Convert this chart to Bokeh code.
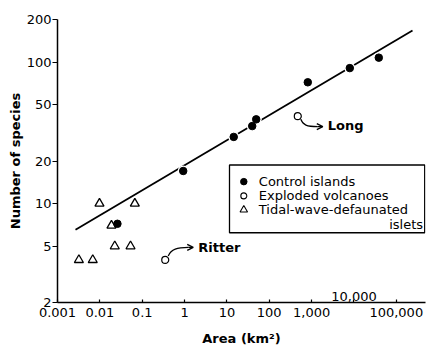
import math
from bokeh.plotting import figure
from bokeh.models import FixedTicker, Label, Range1d, Arrow, OpenHead
from bokeh.embed import file_html
from bokeh.resources import INLINE
from bokeh.core.properties import value

# ---------------- data ----------------
control_area = [0.026, 0.93, 14.5, 39.6, 49.2, 813, 7980, 38600]
control_species = [7.2, 17.0, 29.6, 35.3, 39.4, 72.0, 90.7, 107.5]

volcano_names = ["Ritter", "Long"]
volcano_area = [0.35, 472]
volcano_species = [4.0, 41.5]

tidal_area = [0.0032, 0.0068, 0.0098, 0.0188, 0.0225, 0.053, 0.067]
tidal_species = [4.0, 4.0, 10.0, 7.0, 5.0, 5.0, 10.0]

fit_area = [0.00266, 241500]
fit_species = [6.53, 167.4]

x_ticks = [0.001, 0.01, 0.1, 1, 10, 100, 1000, 10000, 100000]
x_tick_labels = ["0.001", "0.01", "0.1", "1", "10", "100", "1,000", "10,000", "100,000"]
y_ticks = [2, 5, 10, 20, 50, 100, 200]
y_tick_labels = ["2", "5", "10", "20", "50", "100", "200"]

legend_labels = ["Control islands", "Exploded volcanoes", "Tidal-wave-defaunated", "islets"]

x_label = "Area (km²)"
y_label = "Number of species"

# ---------------- layout ----------------
FONT = "DejaVu Sans"
W, H = 426, 348
BL, BR, BT, BB = 57, 1, 19, 45
FW, FH = W - BL - BR, H - BT - BB
PX_X = 42.35          # pixels per decade on x
X0 = 0.001
X1 = 10 ** (math.log10(X0) + FW / PX_X)
Y0, Y1 = 2, 200
PX_Y = FH / (math.log10(Y1) - math.log10(Y0))


def fx(px):
    return 10 ** (math.log10(X0) + px / PX_X)


def fy(py):
    return 10 ** (math.log10(Y1) - py / PX_Y)


def shift(x, y, dx, dy):
    return x * 10 ** (dx / PX_X), y * 10 ** (-dy / PX_Y)


p = figure(width=W, height=H, x_axis_type="log", y_axis_type="log",
           x_range=Range1d(X0, X1), y_range=Range1d(Y0, Y1),
           output_backend="svg", toolbar_location=None,
           min_border_left=BL, min_border_right=BR,
           min_border_top=BT, min_border_bottom=BB)
p.outline_line_color = None
p.xgrid.visible = False
p.ygrid.visible = False
p.background_fill_color = "white"
p.border_fill_color = "white"

# axes
xo = {t: l for t, l in zip(x_ticks, x_tick_labels)}
xo[10000] = ""
yo = {t: l for t, l in zip(y_ticks, y_tick_labels)}
p.xaxis.ticker = FixedTicker(ticks=x_ticks, minor_ticks=[])
p.yaxis.ticker = FixedTicker(ticks=y_ticks, minor_ticks=[])
p.xaxis.major_label_overrides = xo
p.yaxis.major_label_overrides = yo
for ax in (p.xaxis, p.yaxis):
    ax.axis_line_width = 1.5
    ax.axis_line_color = "black"
    ax.major_tick_line_color = "black"
    ax.major_tick_line_width = 1.2
    ax.minor_tick_line_color = None
    ax.major_label_text_font = FONT
    ax.major_label_text_font_size = "13px"
    ax.major_label_text_color = "black"
    ax.axis_label_text_font = FONT
    ax.axis_label_text_font_size = "13px"
    ax.axis_label_text_font_style = "bold"
    ax.axis_label_text_color = "black"
p.xaxis.major_tick_in = 3
p.xaxis.major_tick_out = 0
p.yaxis.major_tick_in = 0
p.yaxis.major_tick_out = 5
p.xaxis.major_label_standoff = 5
p.yaxis.major_label_standoff = 1
p.xaxis.axis_label = x_label
p.yaxis.axis_label = y_label
p.xaxis.axis_label_standoff = 11
p.yaxis.axis_label_standoff = 1

# raised "10,000" tick label (sits above the axis in the original)
p.add_layout(Label(x=10000, y=Y0, text=x_tick_labels[7], text_align="center",
                   text_baseline="alphabetic", y_offset=6, text_font=FONT,
                   text_font_size="13px", text_color="black"))

# regression line
p.line(fit_area, fit_species, line_color="black", line_width=1.8)

# white halos so the line breaks around the points
p.scatter(control_area, control_species, marker="circle", size=11,
          fill_color="white", line_color=None)

# data points
p.scatter(tidal_area, tidal_species, marker="triangle", size=9,
          fill_color="white", line_color="black", line_width=1.3)
p.scatter(control_area, control_species, marker="circle", size=7.5,
          fill_color="black", line_color="black")
p.scatter(volcano_area, volcano_species, marker="circle", size=7,
          fill_color="white", line_color="black", line_width=1.2)

# annotation arrows for the named volcanoes
arrow_shapes = {
    "Ritter": dict(s=(3, -4), c0=(6, -11), c1=(12, -12.5), e=(23, -12.5),
                   tip=(28, -12.5), txt=(33, -12.5)),
    "Long": dict(s=(3, 3), c0=(5, 9), c1=(9, 10.5), e=(20, 10.5),
                 tip=(25, 10.5), txt=(30, 9.5)),
}
for name, ax_, ay_ in zip(volcano_names, volcano_area, volcano_species):
    sh = arrow_shapes[name]
    sx, sy = shift(ax_, ay_, *sh["s"])
    c0x, c0y = shift(ax_, ay_, *sh["c0"])
    c1x, c1y = shift(ax_, ay_, *sh["c1"])
    ex, ey = shift(ax_, ay_, *sh["e"])
    tx, ty = shift(ax_, ay_, *sh["tip"])
    lx, ly = shift(ax_, ay_, *sh["txt"])
    p.bezier(x0=[sx], y0=[sy], x1=[ex], y1=[ey], cx0=[c0x], cy0=[c0y],
             cx1=[c1x], cy1=[c1y], line_color="black", line_width=1.3)
    p.add_layout(Arrow(end=OpenHead(size=6, line_width=1.3, line_color="black"),
                       x_start=ex, y_start=ey, x_end=tx, y_end=ty,
                       line_color="black", line_width=1.3))
    p.add_layout(Label(x=lx, y=ly, text=name, text_align="left",
                       text_baseline="middle", text_font=FONT,
                       text_font_size="13px", text_font_style="bold",
                       text_color="black"))

# legend box
p.quad(left=[fx(172)], right=[fx(367.2)], top=[fy(146)], bottom=[fy(214)],
       fill_color="white", line_color="black", line_width=1.3)
row_y = [fy(162.7), fy(177), fy(191), fy(206)]
mx = fx(186.3)
p.scatter([mx], [row_y[0]], marker="circle", size=6.5, fill_color="black", line_color="black")
p.scatter([mx], [row_y[1]], marker="circle", size=6, fill_color="white", line_color="black", line_width=1.1)
p.scatter([mx], [row_y[2]], marker="triangle", size=7.5, fill_color="white", line_color="black", line_width=1.1)
p.text(x=[fx(201.3)] * 3, y=row_y[:3], text=legend_labels[:3],
       text_font=value(FONT), text_font_size=value("13px"),
       text_baseline="middle", text_align="left", text_color="black")
p.text(x=[fx(365.5)], y=[row_y[3]], text=[legend_labels[3]],
       text_font=value(FONT), text_font_size=value("13px"),
       text_baseline="middle", text_align="right", text_color="black")

open("out.html", "w").write(file_html(p, INLINE))
